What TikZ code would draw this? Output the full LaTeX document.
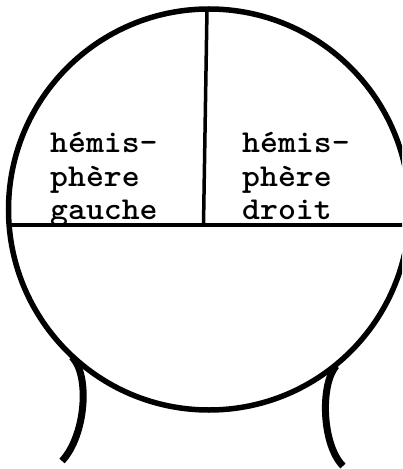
\documentclass[tikz,border=0pt]{standalone}
\begin{document}
\begin{tikzpicture}[x=1bp,y=-1bp,
  headline/.style={line width=5.5bp},
  divline/.style={line width=3.5bp},
  neckline/.style={line width=7bp},
  lbl/.style={anchor=base west, inner sep=0pt, font=\ttfamily\bfseries\fontsize{32}{34}\selectfont}]
\useasboundingbox (0,0) rectangle (402,469);
\clip (0,0) rectangle (402,469);
% head
\coordinate (c) at (209,209.5);
\draw[headline] (c) circle[radius=200.5];
% dividing lines
\coordinate (vtop) at (207,9);
\coordinate (vbot) at (203.5,225);
\coordinate (hl) at (9.5,225);
\coordinate (hr) at (410,225);
\draw[divline] (vtop) -- (vbot);
\draw[divline] (hl) -- (hr);
% neck
\coordinate (nl1) at (72,357);
\coordinate (nl2) at (62,461);
\coordinate (nr1) at (336,366);
\coordinate (nr2) at (343,466);
\draw[neckline] (nl1) .. controls (90,375) and (86,435) .. (nl2);
\draw[neckline] (nr1) .. controls (320,385) and (322,445) .. (nr2);
% labels
\node[lbl] (l1) at (50,153) {\scalebox{1.07}[1]{hémis-}};
\node[lbl] (l2) at (50,186.5) {\scalebox{1.07}[1]{phère}};
\node[lbl] (l3) at (50,220) {\scalebox{1.07}[1]{gauche}};
\node[lbl] (r1) at (242,153) {\scalebox{1.07}[1]{hémis-}};
\node[lbl] (r2) at (242,186.5) {\scalebox{1.07}[1]{phère}};
\node[lbl] (r3) at (242,220) {\scalebox{1.07}[1]{droit}};
\end{tikzpicture}
\end{document}
